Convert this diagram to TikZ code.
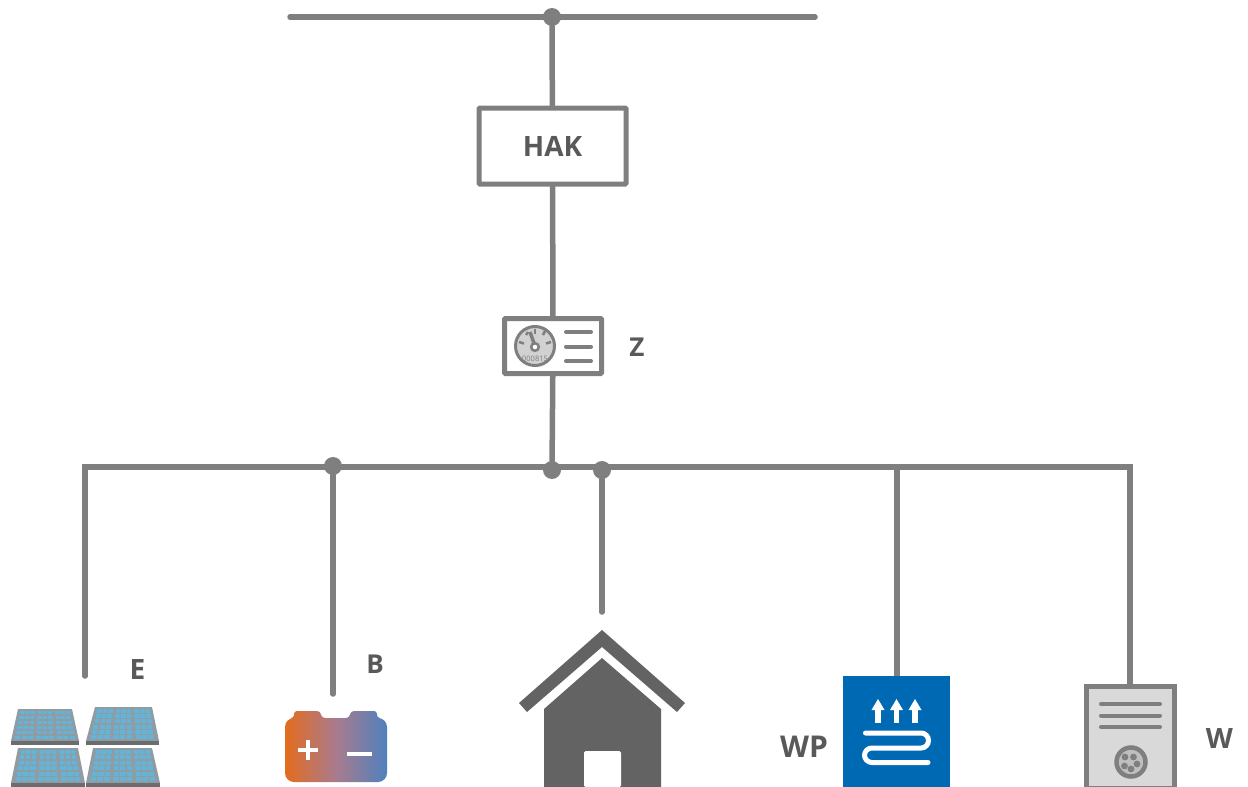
\documentclass[tikz,border=0pt]{standalone}
\usepackage{fontspec}
\setmainfont{Open Sans}
\definecolor{wire}{HTML}{7F7F7F}
\definecolor{txt}{HTML}{595959}
\definecolor{housec}{HTML}{636363}
\definecolor{wpblue}{HTML}{0069B4}
\definecolor{batL}{HTML}{E36C1E}
\definecolor{batM}{HTML}{A97B8E}
\definecolor{batR}{HTML}{4F81BD}
\definecolor{cellc}{HTML}{62B4D8}
\definecolor{framec}{HTML}{8F9CA4}
\definecolor{stripc}{HTML}{6C6C6C}
\tikzset{
  wireline/.style={draw=wire,line width=5.5pt,line cap=round,line join=miter},
  junction/.style={circle,fill=wire,inner sep=0pt,minimum size=18pt},
  boxnode/.style={draw=wire,line width=5pt,fill=white,inner sep=0pt,rounded corners=1pt},
  biglabel/.style={text=txt,font=\bfseries\fontsize{28}{30}\selectfont,inner sep=0pt},
  lbltext/.style={text=txt,font=\bfseries\fontsize{26}{28}\selectfont,inner sep=0pt},
  iconline/.style={draw=wire,line width=4pt,line cap=round},
}
% xtl xtr xbl xbr ytop ybot
\newcommand{\solarpanel}[6]{%
  \fill[framec] (#1,#5) -- (#2,#5) -- (#4,#6) -- (#3,#6) -- cycle;
  \fill[stripc] (#3,#6) rectangle (#4,#6+3.5);
  \foreach \c in {0,...,8}{
    \foreach \r in {0,...,5}{
      \pgfmathsetmacro{\vv}{(\r+0.5)/6*0.94+0.03}
      \pgfmathsetmacro{\uu}{0.045+0.91*(\c+0.5+0.35*floor(\c/3))/9.7}
      \pgfmathsetmacro{\xl}{#1+(#3-#1)*\vv}
      \pgfmathsetmacro{\xr}{#2+(#4-#2)*\vv}
      \pgfmathsetmacro{\xc}{\xl+(\xr-\xl)*\uu}
      \pgfmathsetmacro{\yc}{#5+(#6-#5)*\vv}
      \pgfmathsetmacro{\hw}{(\xr-\xl)/9.7*0.37}
      \pgfmathsetmacro{\hh}{(#6-#5)/6*0.33}
      \fill[cellc] (\xc-\hw,\yc-\hh) rectangle (\xc+\hw,\yc+\hh);
    }
  }
}
\begin{document}
\begin{tikzpicture}[x=1pt,y=-1pt]
\useasboundingbox (0,0) rectangle (1248,787);

% named points
\coordinate (busL) at (290,17);
\coordinate (busR) at (815,17);
\coordinate (jE) at (85,467);
\coordinate (jW) at (1130,467);
\coordinate (jP) at (897,467);
\coordinate (endE) at (85,676);
\coordinate (endB) at (333,694);
\coordinate (endH) at (602,612);
\coordinate (endP) at (897,680);
\coordinate (endW) at (1130,688);

% nodes
\node[junction] (top) at (552,17) {};
\node[boxnode,minimum width=147pt,minimum height=76pt,biglabel,draw=wire] (hak) at (552.5,146) {HAK};
\node[boxnode,minimum width=97pt,minimum height=55pt] (meter) at (553,346) {};
\node[junction] (jB) at (333,466) {};
\node[junction] (jM) at (552,470) {};
\node[junction] (jH) at (602,470) {};

% connectors
\draw[wireline] (busL) -- (busR);
\draw[wireline] (top) -- (hak);
\draw[wireline] (hak) -- (meter);
\draw[wireline] (meter) -- (jM);
\draw[wireline] (endE) -- (jE) -- (jW) -- (endW);
\draw[wireline] (jB) -- (endB);
\draw[wireline] (jH) -- (endH);
\draw[wireline,line cap=butt] (jP) -- (endP);

% meter icon
\draw[draw=wire,line width=3pt,fill=black!18] (535,346) circle (19.5);
\draw[wire,line width=2.5pt] (519,342) -- (524,343.5);
\draw[wire,line width=2.5pt] (551,342) -- (546,343.5);
\draw[wire,line width=2.5pt] (528,332) -- (526,335);
\draw[wire,line width=2.5pt] (535,329) -- (535,334);
\draw[wire,line width=2.5pt] (545,331) -- (543,335);
\draw[wire,line width=3.5pt] (530,332) -- (535,346);
\draw[wire,line width=2.5pt,fill=white] (535,347) circle (3.8);
\node[text=wire,font=\fontsize{7.5}{8}\selectfont,inner sep=0pt] (count) at (535,359) {000815};
\draw[iconline] (566,332) -- (591,332);
\draw[iconline] (566,346.5) -- (591,346.5);
\draw[iconline] (566,361) -- (591,361);

% labels
\node[lbltext] (lz) at (637,347.5) {Z};
\node[lbltext,font=\bfseries\fontsize{28}{30}\selectfont] (le) at (137.5,669) {E};
\node[lbltext] (lb) at (375,664.5) {B};
\node[lbltext,font=\bfseries\fontsize{30}{32}\selectfont] (lwp) at (804,747) {WP};
\node[lbltext,font=\bfseries\fontsize{28}{30}\selectfont] (lw) at (1219.5,738) {W};

% solar panels
\solarpanel{18}{72}{11}{79}{709}{741}
\solarpanel{95}{152}{86}{159}{707}{741}
\solarpanel{18}{78}{11}{85}{748}{783}
\solarpanel{93}{152}{86}{160}{748}{783}

% battery
\shade[left color=batL,right color=batR,middle color=batM,rounded corners=3pt]
  (285,782) [rounded corners=9pt] -- (387,782) -- (387,718) [rounded corners=3pt] -- (377,718) -- (377,711) -- (351,711) -- (349,718) -- (322,718) -- (320,711) -- (294,711) -- (294,718) [rounded corners=9pt] -- (285,718) -- cycle;
\fill[white] (305.8,740) rectangle (310.2,760);
\fill[white] (298,747.8) rectangle (318,752.2);
\fill[white] (347,752) rectangle (372,756);

% house
\fill[housec] (602,630) -- (685,703) -- (677,712) -- (602,647) -- (527,712) -- (519,703) -- cycle;
\fill[housec] (602,658) -- (661,709) -- (661,787) -- (544,787) -- (544,709) -- cycle;
\fill[white,rounded corners=1.5pt] (584,787) -- (584,751) -- (621,751) -- (621,787) -- cycle;

% heat pump
\fill[wpblue] (843,676) rectangle (950,787);
\foreach \xa in {878,896.5,915}{
  \fill[white] (\xa-2.7,708) rectangle (\xa+2.7,722.5);
  \fill[white] (\xa,699) -- (\xa+6.5,710) -- (\xa-6.5,710) -- cycle;
}
\draw[white,line width=5pt,line cap=round,rounded corners=7.4pt]
  (865.5,733) -- (928.5,733) -- (928.5,748) -- (864.5,748) -- (864.5,762.5) -- (928,762.5);

% wallbox
\draw[draw=wire,line width=5pt,fill=black!15] (1086,787) -- (1086,686.5) -- (1174.5,686.5) -- (1174.5,787);
\draw[wire,line width=2pt] (1086,786.5) -- (1174.5,786.5);
\draw[iconline] (1101,704) -- (1160,704);
\draw[iconline] (1101,715.5) -- (1160,715.5);
\draw[iconline] (1101,727) -- (1160,727);
\draw[draw=wire,line width=4.5pt,fill=black!25] (1131,762) circle (14.5);
\foreach \dx/\dy in {1125/757,1133.5/757,1124.5/766,1131/769,1137/764}
  \fill[wire] (\dx,\dy) circle (3.4);
\end{tikzpicture}
\end{document}
